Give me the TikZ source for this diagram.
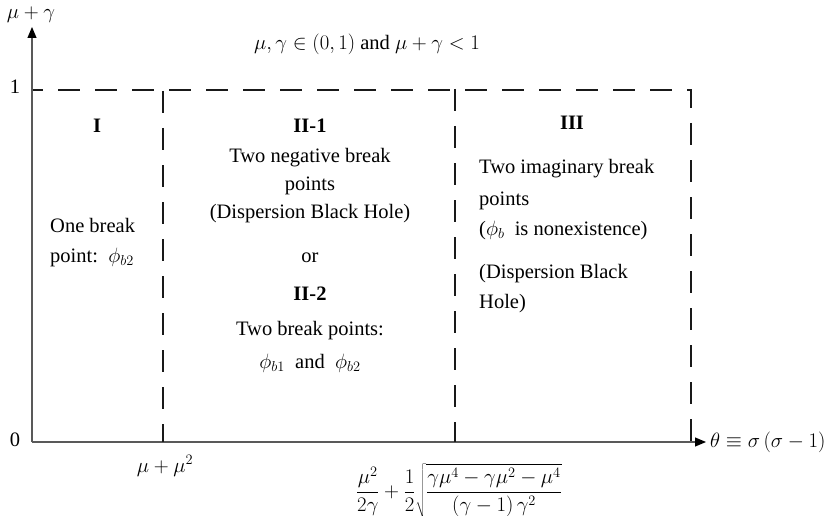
\documentclass[tikz,border=0pt]{standalone}
\usepackage{fontspec}
\setmainfont{Liberation Serif}
\usetikzlibrary{arrows.meta}
\begin{document}
\begin{tikzpicture}[x=1pt,y=-1pt,
  font=\fontsize{20.5}{30}\selectfont,
  axisline/.style={draw=black!65, line width=1.1pt, -{Triangle[length=11pt,width=9pt,fill=black,color=black]}},
  dashline/.style={draw=black!90, line width=1.15pt, dash pattern=on 22pt off 15pt},
  txt/.style={inner sep=0pt, text height=14pt, text depth=4pt},
  head/.style={txt, font=\fontsize{20.5}{30}\selectfont\bfseries}]
\useasboundingbox (0,0) rectangle (827,516);
% axes
\coordinate (O) at (32,442);
\coordinate (ytop) at (32,27);
\coordinate (xend) at (706,442);
\draw[axisline] (O) -- (ytop);
\draw[axisline] (O) -- (xend);
% dashed region borders
\coordinate (c1) at (33,90);
\coordinate (c2) at (691,90);
\coordinate (c3) at (691,442);
\coordinate (a1) at (163,91);
\coordinate (a2) at (163,442);
\coordinate (b1) at (455,89);
\coordinate (b2) at (455,442);
\draw[dashline, dash phase=12pt] (c1) -- (c2) -- (c3);
\draw[dashline] (a1) -- (a2);
\draw[dashline] (b1) -- (b2);
% axis labels
\node[txt] (ylab) at (31,14) {$\mu+\gamma$};
\node[txt] (one) at (15,89) {1};
\node[txt] (zero) at (15,441) {0};
\node[txt, anchor=west] (xlab) at (710,442) {$\theta\equiv\sigma\,(\sigma-1)$};
\node[txt] (cond) at (367,45) {$\mu,\gamma\in(0,1)$ and $\mu+\gamma<1$};
\node[txt] (t1) at (165,467) {$\mu+\mu^2$};
\node[inner sep=0pt] (t2) at (459,491) {$\displaystyle\frac{\mu^2}{2\gamma}+\frac{1}{2}\sqrt{\frac{\gamma\mu^4-\gamma\mu^2-\mu^4}{(\gamma-1)\,\gamma^2}}$};
% region I
\node[head] (rI) at (97,127) {I};
\node[txt, anchor=west] (rIa) at (50,227) {One break};
\node[txt, anchor=west] (rIb) at (50,257) {point:\ \ $\phi_{b2}$};
% region II
\node[head] (rII1) at (310,127) {II-1};
\node[txt] (rIIa) at (310,157) {Two negative break};
\node[txt] (rIIb) at (310,185) {points};
\node[txt] (rIIc) at (310,213) {(Dispersion Black Hole)};
\node[txt] (rIIor) at (310,257) {or};
\node[head] (rII2) at (310,295) {II-2};
\node[txt] (rIId) at (310,330) {Two break points:};
\node[txt] (rIIe) at (310,363) {$\phi_{b1}$\ \ and\ \ $\phi_{b2}$};
% region III
\node[head] (rIII) at (572,125) {III};
\node[txt, anchor=west] (rIIIa) at (479,168) {Two imaginary break};
\node[txt, anchor=west] (rIIIb) at (479,200) {points};
\node[txt, anchor=west] (rIIIc) at (479,230) {($\phi_b$\ \ is nonexistence)};
\node[txt, anchor=west] (rIIId) at (479,273) {(Dispersion Black};
\node[txt, anchor=west] (rIIIe) at (479,303) {Hole)};
\end{tikzpicture}
\end{document}
